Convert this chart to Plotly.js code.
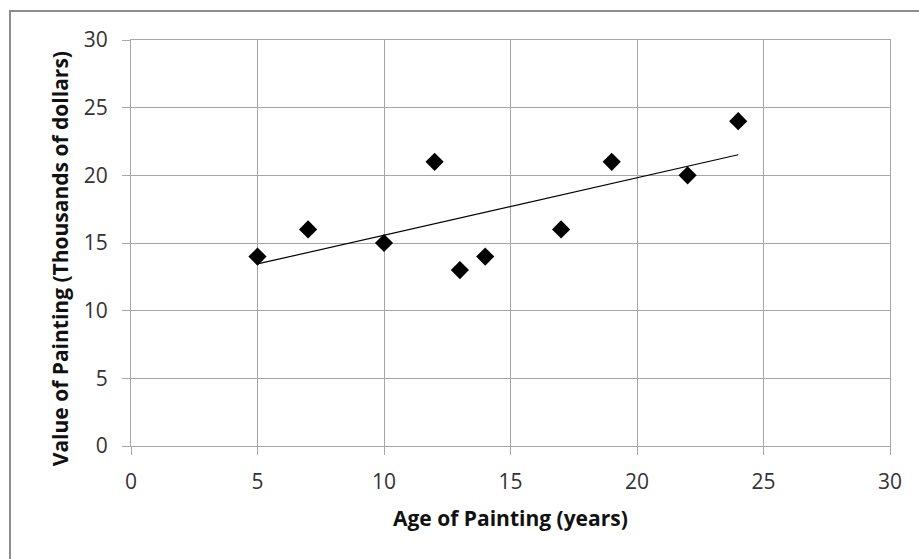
<!DOCTYPE html>
<html>
<head>
<meta charset="utf-8">
<script src="https://cdn.plot.ly/plotly-3.0.1.min.js"></script>
<style>
  html, body { margin: 0; padding: 0; background: #fff; overflow: hidden; }
  #frame { position: absolute; left: 9px; top: 10px; width: 1200px; height: 1200px; border: 2px solid #8c8c8c; box-sizing: border-box; }
  #chart { position: absolute; left: 0; top: 0; width: 919px; height: 559px; }
</style>
</head>
<body>
<div id="frame"></div>
<div id="chart"></div>
<script>
const ageYears = [5, 7, 10, 12, 13, 14, 17, 19, 22, 24];
const valueThousands = [14, 16, 15, 21, 13, 14, 16, 21, 20, 24];
const xTickVals = [0, 5, 10, 15, 20, 25, 30];
const yTickVals = [0, 5, 10, 15, 20, 25, 30];
const xTitle = "Age of Painting (years)";
const yTitle = "Value of Painting (Thousands of dollars)";

// Linear trendline (least squares), drawn over the data's x span
const n = ageYears.length;
const mx = ageYears.reduce((a, b) => a + b, 0) / n;
const my = valueThousands.reduce((a, b) => a + b, 0) / n;
let sxy = 0, sxx = 0;
for (let i = 0; i < n; i++) { sxy += (ageYears[i] - mx) * (valueThousands[i] - my); sxx += (ageYears[i] - mx) ** 2; }
const slope = sxy / sxx, intercept = my - slope * mx;
const trendX = [Math.min(...ageYears), Math.max(...ageYears)];
const trendY = trendX.map(x => intercept + slope * x);

const font = "Open Sans, Noto Sans, sans-serif";
const grid = "#a6a6a6";

const traces = [
  { x: ageYears, y: valueThousands, type: "scatter", mode: "markers",
    marker: { symbol: "diamond", size: 14, color: "#000" }, hoverinfo: "x+y" },
  { x: trendX, y: trendY, type: "scatter", mode: "lines",
    line: { color: "#000", width: 1.2 }, hoverinfo: "skip" }
];

const layout = {
  width: 919, height: 559,
  margin: { l: 131, r: 29, t: 40, b: 113 },
  paper_bgcolor: "rgba(0,0,0,0)", plot_bgcolor: "#fff",
  showlegend: false,
  font: { family: font, color: "#222" },
  xaxis: {
    range: [0, 30], tickvals: xTickVals, showgrid: true, gridcolor: grid, gridwidth: 1,
    zeroline: false, showline: true, linecolor: grid, mirror: true,
    ticks: "outside", ticklen: 8, tickcolor: grid, tickfont: { family: font, size: 21, color: "#333" },
    ticklabelstandoff: 9,
    title: { text: "" }, fixedrange: true
  },
  yaxis: {
    range: [0, 30], tickvals: yTickVals, showgrid: true, gridcolor: grid, gridwidth: 1,
    zeroline: false, showline: true, linecolor: grid, mirror: true,
    ticks: "outside", ticklen: 8, tickcolor: grid, tickfont: { family: font, size: 21, color: "#333" },
    ticklabelstandoff: 10,
    title: { text: "" }, fixedrange: true
  },
  annotations: [
    { text: "<b>" + xTitle + "</b>", xref: "paper", yref: "paper", x: 0.5, y: -72 / 406,
      xanchor: "center", yanchor: "middle", showarrow: false, font: { family: font, size: 21, color: "#111" } },
    { text: "<b>" + yTitle + "</b>", xref: "paper", yref: "paper", x: -71 / 759, y: 0.46,
      xanchor: "center", yanchor: "middle", textangle: -90, showarrow: false, font: { family: font, size: 21, color: "#111" } }
  ]
};

Plotly.newPlot("chart", traces, layout, { displayModeBar: false, staticPlot: true });
</script>
</body>
</html>
